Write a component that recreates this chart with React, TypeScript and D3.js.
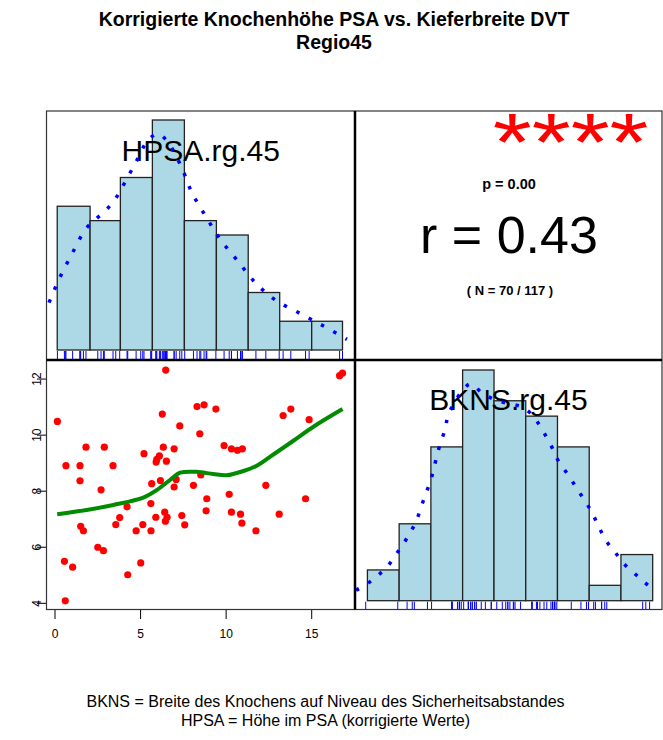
import * as d3 from 'd3';
import React from 'react';

// scatter points (HPSA on x, BKNS on y)
const hpsa = [0.14, 0.64, 1.46, 1.46, 1.81, 2.88, 3.39, 2.69, 5.2, 6.27, 6.47, 7.29, 6.33, 6.96, 6.1, 5.95, 5.91, 6.51,
  8.3, 8.71, 9.4, 8.46, 9.88, 10.31, 10.66, 10.95, 13.33, 13.78, 14.85, 16.63, 16.8, 5.65, 6.16, 7.08, 6.96, 8.52,
  8.09, 12.32, 10.18, 8.87, 8.83, 10.31, 10.84, 10.92, 11.74, 13.1, 14.64, 5.6, 4.21, 3.78, 3.55, 4.74, 5.13, 5.61,
  5.89, 6.41, 6.55, 6.45, 7.41, 7.58, 1.5, 1.66, 2.5, 2.83, 0.55, 1.03, 4.25, 5.01, 0.6];
const bkns = [10.49, 8.91, 8.91, 8.37, 9.57, 9.57, 8.91, 8.05, 9.34, 10.75, 12.32, 10.33, 9.57, 9.51, 9.26, 9.14, 9.04, 9.07,
  11.02, 11.08, 10.93, 10.05, 9.63, 9.51, 9.46, 9.51, 10.7, 10.93, 10.55, 12.12, 12.21, 8.27, 8.38, 8.42, 8.15, 8.58,
  8.21, 8.21, 7.89, 7.73, 7.3, 7.25, 7.18, 6.86, 6.59, 7.18, 7.73, 7.56, 7.44, 7.06, 6.81, 6.59, 6.81, 6.59,
  7.07, 7.25, 7.07, 6.93, 7.13, 6.8, 6.75, 6.59, 6.0, 5.88, 5.5, 5.29, 5.02, 5.44, 4.09];

// histograms
const hpsaBreaks = [0.13, 2.05, 3.82, 5.69, 7.56, 9.43, 11.29, 13.13, 15.0, 16.8];
const hpsaCounts = [10, 9, 12, 16, 9, 8, 4, 2, 2];
const bknsBreaks = [4.14, 5.06, 5.98, 6.9, 7.81, 8.73, 9.65, 10.57, 11.49, 12.41];
const bknsCounts = [2, 5, 10, 15, 13, 12, 10, 1, 3];

// density curves (in counts)
const hpsaDensX = [-0.35, 0.29, 1.01, 1.79, 2.36, 2.96, 3.49, 3.9, 4.68, 5.46, 6.04, 6.63, 7.41, 8.01, 8.81, 9.65, 10.66, 11.7, 12.87, 14.29, 15.69, 17.06];
const hpsaDensY = [3.3, 5.06, 6.73, 8.41, 9.08, 9.71, 10.45, 11.27, 12.96, 14.63, 15.03, 14.4, 12.66, 10.92, 9.29, 7.71, 6.22, 4.69, 3.48, 2.56, 1.67, 0.74];
const bknsDensX = [3.81, 4.14, 4.46, 4.74, 4.96, 5.18, 5.4, 5.57, 5.7, 5.83, 5.97, 6.07, 6.16, 6.28, 6.4, 6.48, 6.88, 7.14, 7.46, 7.82,
  8.14, 8.57, 8.86, 9.12, 9.32, 9.51, 9.67, 9.89, 10.12, 10.33, 10.54, 10.73, 10.9, 11.11, 11.34, 11.58, 11.88, 12.17, 12.46];
const bknsDensY = [0.68, 1.11, 1.67, 2.28, 2.98, 3.69, 4.5, 5.26, 6.12, 6.93, 7.8, 8.63, 9.49, 10.4, 11.19, 12.05, 13.62, 14.1, 13.51, 13.08,
  12.86, 12.64, 12.21, 11.45, 10.68, 9.88, 9.1, 8.4, 7.62, 6.89, 6.17, 5.37, 4.56, 3.74, 3.09, 2.39, 1.78, 1.2, 0.68];

// smoother in scatter
const loessX = [0.13, 1.85, 3.41, 5.16, 5.94, 6.72, 7.31, 8.28, 9.25, 10.03, 11.01, 11.79, 12.76, 13.93, 15.1, 16.8];
const loessY = [7.18, 7.33, 7.51, 7.77, 8.04, 8.4, 8.66, 8.69, 8.61, 8.57, 8.72, 8.91, 9.31, 9.8, 10.3, 10.93];

const xTicks = [0, 5, 10, 15];
const yTicks = [4, 6, 8, 10, 12];

const FONT = '"Liberation Sans", Arial, sans-serif';

export default function App() {
  const left = 46.5, mid = 355, right = 662;
  const top = 111, midY = 360, bottom = 609.5;

  const xH = d3.scaleLinear().domain([-0.497, 17.53]).range([left, mid]);
  const yB = d3.scaleLinear().domain([3.78, 12.68]).range([bottom, midY]);
  const xB = d3.scaleLinear().domain([3.78, 12.68]).range([mid, right]);

  const cH = d3.scaleLinear().domain([0, d3.max(hpsaCounts)]).range([350, 120]);
  const cB = d3.scaleLinear().domain([0, d3.max(bknsCounts)]).range([600.7, 370]);

  const densH = d3.line<number>().x((d, i) => xH(hpsaDensX[i])).y(d => cH(d)).curve(d3.curveCatmullRom);
  const densB = d3.line<number>().x((d, i) => xB(bknsDensX[i])).y(d => cB(d)).curve(d3.curveCatmullRom);
  const smooth = d3.line<number>().x((d, i) => xH(loessX[i])).y(d => yB(d)).curve(d3.curveCatmullRom);

  return (
    <svg width={663} height={740} style={{ position: 'absolute', left: 0, top: 0 }} fontFamily={FONT}>
      <rect width={663} height={740} fill="#fff" />
      <defs>
        <clipPath id="cTL"><rect x={left} y={top} width={mid - left} height={midY - top} /></clipPath>
        <clipPath id="cBL"><rect x={left} y={midY} width={mid - left} height={bottom - midY} /></clipPath>
        <clipPath id="cBR"><rect x={mid} y={midY} width={right - mid} height={bottom - midY} /></clipPath>
      </defs>

      <text x={334} y={26} textAnchor="middle" fontSize={19.5} fontWeight="bold">Korrigierte Knochenhöhe PSA vs. Kieferbreite DVT</text>
      <text x={334} y={49} textAnchor="middle" fontSize={19.5} fontWeight="bold">Regio45</text>

      {/* top-left histogram */}
      <g clipPath="url(#cTL)">
        {hpsaCounts.map((c, i) => (
          <rect key={i} x={xH(hpsaBreaks[i])} y={cH(c)} width={xH(hpsaBreaks[i + 1]) - xH(hpsaBreaks[i])}
            height={cH(0) - cH(c)} fill="#ADD8E6" stroke="#222" strokeWidth={1.3} />
        ))}
        <text x={(left + mid) / 2} y={160.5} textAnchor="middle" fontSize={30}>HPSA.rg.45</text>
        <path d={densH(hpsaDensY) || ''} fill="none" stroke="#0000FF" strokeWidth={3.5} strokeDasharray="3.5 10.5" />
        {hpsa.map((v, i) => (
          <line key={i} x1={xH(v)} x2={xH(v)} y1={cH(0) + 1} y2={midY} stroke="#0000FF" strokeWidth={1} />
        ))}
      </g>

      {/* top-right correlation */}
      <text transform="translate(648.5,170) scale(1,0.82)" textAnchor="end" fontSize={100} fill="#FF0000">****</text>
      <text x={509} y={189} textAnchor="middle" fontSize={14.5} fontWeight="bold">p = 0.00</text>
      <text x={509} y={253} textAnchor="middle" fontSize={52}>r = 0.43</text>
      <text x={510} y={295} textAnchor="middle" fontSize={13} fontWeight="bold">( N = 70 / 117 )</text>

      {/* bottom-left scatter */}
      <g clipPath="url(#cBL)">
        {hpsa.map((v, i) => (
          <circle key={i} cx={xH(v)} cy={yB(bkns[i])} r={3.6} fill="#FF0000" />
        ))}
        <path d={smooth(loessY) || ''} fill="none" stroke="#008B00" strokeWidth={4} strokeLinejoin="round" />
      </g>
      {yTicks.map(t => (
        <g key={t}>
          <line x1={left - 9.5} x2={left} y1={yB(t)} y2={yB(t)} stroke="#000" strokeWidth={1} />
          <text transform={`translate(${41},${yB(t)}) rotate(-90)`} textAnchor="middle" fontSize={12}>{t}</text>
        </g>
      ))}
      <line x1={left} x2={left} y1={yB(4)} y2={yB(12)} stroke="#000" strokeWidth={1} />
      {xTicks.map(t => (
        <g key={t}>
          <line x1={xH(t)} x2={xH(t)} y1={bottom} y2={bottom + 9.5} stroke="#000" strokeWidth={1} />
          <text x={xH(t)} y={638} textAnchor="middle" fontSize={12}>{t}</text>
        </g>
      ))}
      <line x1={xH(0)} x2={xH(15)} y1={bottom} y2={bottom} stroke="#000" strokeWidth={1} />

      {/* bottom-right histogram */}
      <g clipPath="url(#cBR)">
        {bknsCounts.map((c, i) => (
          <rect key={i} x={xB(bknsBreaks[i])} y={cB(c)} width={xB(bknsBreaks[i + 1]) - xB(bknsBreaks[i])}
            height={cB(0) - cB(c)} fill="#ADD8E6" stroke="#222" strokeWidth={1.3} />
        ))}
        <text x={(mid + right) / 2} y={410} textAnchor="middle" fontSize={30}>BKNS.rg.45</text>
        <path d={densB(bknsDensY) || ''} fill="none" stroke="#0000FF" strokeWidth={3.5} strokeDasharray="3.5 10.5" />
        {bkns.map((v, i) => (
          <line key={i} x1={xB(v)} x2={xB(v)} y1={cB(0) + 1} y2={bottom} stroke="#0000FF" strokeWidth={1} />
        ))}
      </g>

      {/* panel frames */}
      <rect x={left} y={top} width={right - left} height={bottom - top} fill="none" stroke="#333" strokeWidth={1.2} />
      <line x1={mid} x2={mid} y1={top} y2={bottom} stroke="#000" strokeWidth={2.5} />
      <line x1={left} x2={right} y1={midY} y2={midY} stroke="#000" strokeWidth={2.5} />

      <text x={325.5} y={707} textAnchor="middle" fontSize={16}>BKNS = Breite des Knochens auf Niveau des Sicherheitsabstandes</text>
      <text x={325.5} y={726} textAnchor="middle" fontSize={16}>HPSA = Höhe im PSA (korrigierte Werte)</text>
    </svg>
  );
}
